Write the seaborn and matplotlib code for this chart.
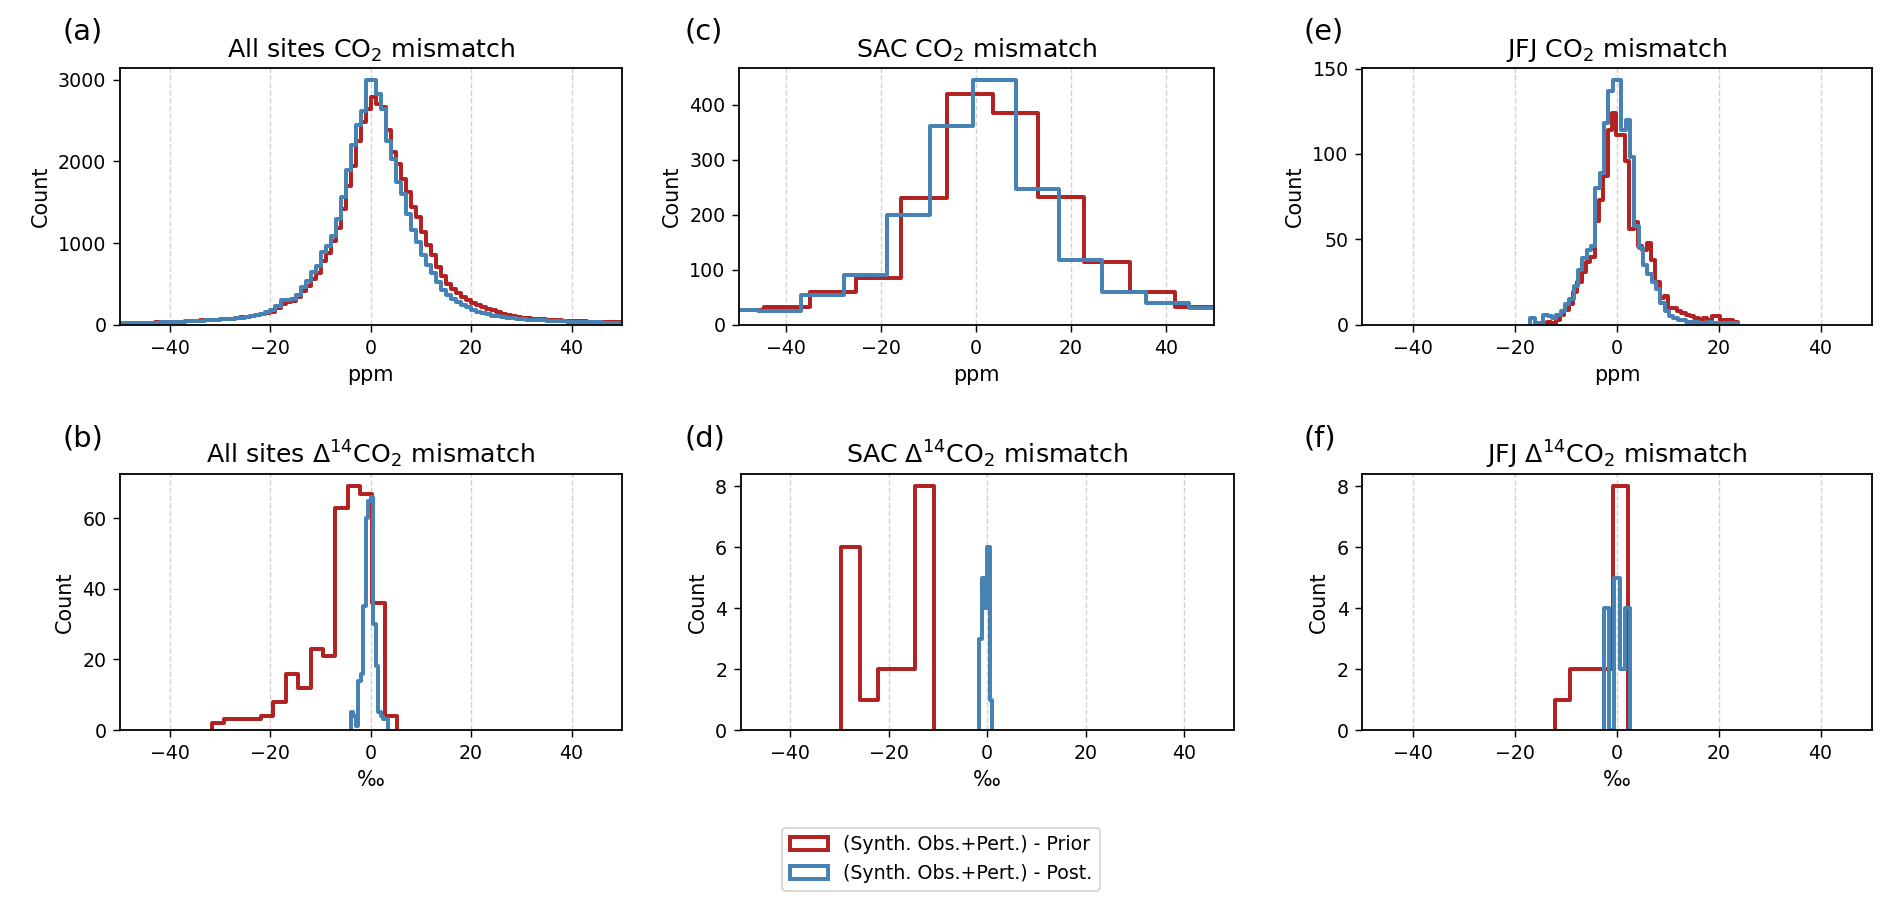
"""Prior / posterior mismatch histograms for CO2 and Delta14CO2 at all sites, SAC and JFJ."""

import matplotlib

matplotlib.use("Agg")
import matplotlib.pyplot as plt
import numpy as np
import pandas as pd
import seaborn as sns
from matplotlib.patches import Patch

PRIOR_COLOR = "#b22222"
POST_COLOR = "#4682b4"
PRIOR_LABEL = "(Synth. Obs.+Pert.) - Prior"
POST_LABEL = "(Synth. Obs.+Pert.) - Post."

# ---- histogram counts (equal-width bins between lo and hi) ----
# (a) all sites CO2 [ppm], 1 ppm bins from -50 to 50
all_co2_lo, all_co2_hi = -50.0, 50.0
all_co2_prior = [
    24, 25, 25, 26, 27, 28, 29, 31, 33, 35,
    37, 39, 42, 45, 48, 51, 55, 58, 62, 66,
    70, 74, 79, 85, 92, 100, 108, 118, 130, 142,
    158, 205, 262, 278, 290, 340, 420, 480, 560, 640,
    780, 880, 1030, 1180, 1420, 1700, 1950, 2250, 2480, 2640,
    2790, 2700, 2660, 2380, 2110, 1970, 1790, 1620, 1440, 1320,
    1140, 975, 855, 710, 600, 500, 440, 385, 345, 305,
    270, 240, 215, 195, 178, 160, 140, 125, 112, 100,
    90, 84, 78, 72, 68, 64, 60, 57, 54, 52,
    49, 46, 44, 42, 40, 38, 36, 35, 34, 33,
]
all_co2_post = [
    22, 23, 24, 25, 26, 27, 28, 30, 32, 34,
    36, 38, 40, 43, 46, 49, 52, 55, 59, 63,
    67, 70, 74, 80, 88, 97, 106, 120, 138, 160,
    180, 230, 300, 305, 315, 370, 460, 540, 650, 720,
    890, 960, 1090, 1300, 1560, 1900, 2200, 2440, 2620, 2990,
    2990, 2830, 2640, 2250, 2030, 1750, 1600, 1360, 1160, 1015,
    855, 730, 630, 530, 430, 370, 320, 285, 250, 215,
    185, 160, 145, 130, 115, 105, 95, 88, 82, 76,
    70, 66, 62, 58, 55, 52, 49, 46, 44, 42,
    40, 38, 36, 34, 33, 31, 30, 29, 28, 27,
]

# (c) SAC CO2 [ppm]
sac_co2_prior_lo, sac_co2_prior_hi = -54.3, 51.6
sac_co2_prior = [27, 32, 59, 85, 230, 419, 385, 233, 114, 59, 32]
sac_co2_post_lo, sac_co2_post_hi = -55.0, 53.8
sac_co2_post = [28, 25, 54, 91, 200, 362, 444, 247, 118, 59, 39, 31]

# (e) JFJ CO2 [ppm]
jfj_co2_prior_lo, jfj_co2_prior_hi = -13.7, 23.7
jfj_co2_prior = [
    2, 1, 3, 6, 9, 12, 19, 25, 31, 37, 40, 61, 73, 87, 114, 124, 111, 111, 96, 56, 60, 46,
    44, 48, 38, 25, 16, 17, 10, 10, 8, 7, 6, 5, 4, 3, 4, 3, 5, 5, 3, 3, 3, 2,
]
jfj_co2_post_lo, jfj_co2_post_hi = -17.0, 23.8
jfj_co2_post = [
    4, 1, 1, 6, 5, 4, 6, 8, 12, 15, 23, 32, 39, 44, 46, 80, 89, 118, 137, 143, 143, 114, 120, 98,
    58, 45, 35, 30, 25, 21, 13, 8, 5, 4, 3, 3, 2, 2, 2, 1, 1, 2, 1, 1, 1, 1, 1, 1,
]

# (b) all sites Delta14CO2 [permil]
all_d14_prior_lo, all_d14_prior_hi = -31.7, 5.2
all_d14_prior = [2, 3, 3, 3, 4, 8, 16, 12, 23, 21, 63, 69, 67, 36, 4]
all_d14_post_lo, all_d14_post_hi = -4.0, 3.5
all_d14_post = [5, 4, 1, 14, 16, 35, 60, 65, 66, 30, 18, 5, 4, 3, 3]

# (d) SAC Delta14CO2 [permil]
sac_d14_prior_lo, sac_d14_prior_hi = -29.6, -10.9
sac_d14_prior = [6, 1, 2, 2, 8]
sac_d14_post_lo, sac_d14_post_hi = -1.62, 1.01
sac_d14_post = [3, 5, 4, 6, 1]

# (f) JFJ Delta14CO2 [permil]
jfj_d14_prior_lo, jfj_d14_prior_hi = -12.1, 2.16
jfj_d14_prior = [1, 2, 2, 2, 8]
jfj_d14_post_lo, jfj_d14_post_hi = -2.6, 2.6
jfj_d14_post = [4, 0, 5, 2, 4]

panels = [
    # letter, title, xlabel, prior, post, axes rect (fig fraction)
    ("(a)", "All sites CO$_2$ mismatch", "ppm",
     (all_co2_prior, all_co2_lo, all_co2_hi), (all_co2_post, all_co2_lo, all_co2_hi),
     [0.0634, 0.6429, 0.2652, 0.2821]),
    ("(b)", "All sites Δ$^{14}$CO$_2$ mismatch", "‰",
     (all_d14_prior, all_d14_prior_lo, all_d14_prior_hi), (all_d14_post, all_d14_post_lo, all_d14_post_hi),
     [0.0634, 0.1978, 0.2652, 0.2810]),
    ("(c)", "SAC CO$_2$ mismatch", "ppm",
     (sac_co2_prior, sac_co2_prior_lo, sac_co2_prior_hi), (sac_co2_post, sac_co2_post_lo, sac_co2_post_hi),
     [0.3906, 0.6429, 0.2508, 0.2821]),
    ("(d)", "SAC Δ$^{14}$CO$_2$ mismatch", "‰",
     (sac_d14_prior, sac_d14_prior_lo, sac_d14_prior_hi), (sac_d14_post, sac_d14_post_lo, sac_d14_post_hi),
     [0.3915, 0.1978, 0.2606, 0.2810]),
    ("(e)", "JFJ CO$_2$ mismatch", "ppm",
     (jfj_co2_prior, jfj_co2_prior_lo, jfj_co2_prior_hi), (jfj_co2_post, jfj_co2_post_lo, jfj_co2_post_hi),
     [0.7200, 0.6429, 0.2692, 0.2821]),
    ("(f)", "JFJ Δ$^{14}$CO$_2$ mismatch", "‰",
     (jfj_d14_prior, jfj_d14_prior_lo, jfj_d14_prior_hi), (jfj_d14_post, jfj_d14_post_lo, jfj_d14_post_hi),
     [0.7200, 0.1978, 0.2692, 0.2810]),
]


def step_hist(ax, counts, lo, hi, color):
    counts = np.asarray(counts, dtype=float)
    edges = np.linspace(lo, hi, len(counts) + 1)
    # tiny empty bins at both ends so the outline drops to zero like histtype="step"
    eps = 1e-6 * (hi - lo)
    bins = [lo - eps, *edges.tolist(), hi + eps]
    data = pd.DataFrame({"value": 0.5 * (edges[:-1] + edges[1:]), "count": counts})
    sns.histplot(data=data, x="value", weights="count", bins=bins, element="step", fill=False,
                 color=color, linewidth=2.2, ax=ax)
    return counts.max()


sns.set_style("ticks", {
    "axes.edgecolor": "black", "xtick.color": "black", "ytick.color": "black",
    "text.color": "black", "axes.labelcolor": "black",
})
plt.rcParams["font.family"] = ["DejaVu Sans"]
plt.rcParams["xtick.major.size"] = 4
plt.rcParams["ytick.major.size"] = 4
plt.rcParams["axes.linewidth"] = 1.0

fig = plt.figure(figsize=(1892 / 130, 910 / 130), dpi=130)

for letter, title, xlabel, prior, post, rect in panels:
    ax = fig.add_axes(rect)
    top = max(step_hist(ax, *prior, PRIOR_COLOR), step_hist(ax, *post, POST_COLOR))
    ax.set_xlim(-50, 50)
    ax.set_ylim(0, top * 1.05)
    ax.set_xticks([-40, -20, 0, 20, 40])
    ax.grid(axis="x", linestyle="--", color="#d4d4d4", linewidth=0.8)
    ax.set_axisbelow(True)
    ax.tick_params(labelsize=10.5)
    ax.set_xlabel(xlabel, fontsize=11.5)
    ax.set_ylabel("Count", fontsize=11.5)
    ax.set_title(title, fontsize=14)
    ax.text(-0.115, 1.087, letter, transform=ax.transAxes, fontsize=16, ha="left", va="bottom")

handles = [
    Patch(facecolor="none", edgecolor=PRIOR_COLOR, linewidth=2.2, label=PRIOR_LABEL),
    Patch(facecolor="none", edgecolor=POST_COLOR, linewidth=2.2, label=POST_LABEL),
]
fig.legend(handles=handles, loc="lower center", bbox_to_anchor=(0.4974, 0.011), fontsize=10.5,
           frameon=True, edgecolor="#cccccc")

fig.savefig("out.png", dpi=130)
